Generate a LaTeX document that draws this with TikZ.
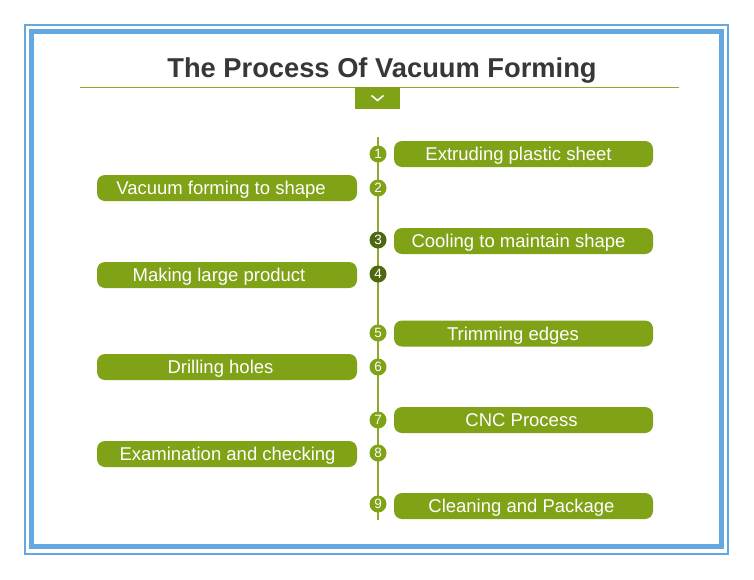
\documentclass[tikz,border=0pt]{standalone}
\usepackage{fontspec}
\setmainfont{Liberation Sans}
\definecolor{bord}{RGB}{100,168,226}
\definecolor{grn}{RGB}{127,162,22}
\definecolor{dgrn}{RGB}{78,104,18}
\definecolor{lgrn}{RGB}{140,170,45}
\definecolor{ttl}{RGB}{55,55,55}
\begin{document}
\begin{tikzpicture}[x=1pt,y=-1pt,
  stepbox/.style={fill=grn,rounded corners=8pt,minimum width=259pt,minimum height=26pt,inner sep=0pt,text height=13pt,text depth=0pt,text=white,font=\fontsize{18.5}{20}\selectfont},
  num/.style={circle,fill=grn,minimum size=17pt,inner sep=0pt,text height=9.3pt,text depth=0pt,text=white,font=\fontsize{13.5}{14}\selectfont},
  dnum/.style={num,fill=dgrn}]
\useasboundingbox (0,0) rectangle (754,579);
\fill[white] (0,0) rectangle (754,579);
% borders
\draw[bord,line width=2pt] (25,25) rectangle (728,554);
\draw[bord,line width=5pt] (31.5,31.5) rectangle (721.5,546.5);
% title
\node[font=\bfseries\fontsize{27.3}{30}\selectfont,text=ttl] (title) at (382,70.5) {The Process Of Vacuum Forming};
\coordinate (tl) at (80,87);
\coordinate (tr) at (679,87);
\draw[lgrn,line width=1pt] (tl) -- (tr);
\node[fill=grn,minimum width=45pt,minimum height=22pt,inner sep=0pt] (chev) at (377.5,98) {};
\draw[white,line width=1.6pt] ([xshift=-6pt,yshift=2.5pt]chev.center) -- ([yshift=-2.5pt]chev.center) -- ([xshift=6pt,yshift=2.5pt]chev.center);
% timeline
\coordinate (lt) at (378,137);
\coordinate (lb) at (378,520);
\draw[lgrn,line width=1.2pt] (lt) -- (lb);
% circles
\node[num]  (n1) at (378,154) {1};
\node[num]  (n2) at (378,188) {2};
\node[dnum] (n3) at (378,240) {3};
\node[dnum] (n4) at (378,274) {4};
\node[num]  (n5) at (378,333) {5};
\node[num]  (n6) at (378,367) {6};
\node[num]  (n7) at (378,420) {7};
\node[num]  (n8) at (378,453) {8};
\node[num]  (n9) at (378,504) {9};
% boxes
\node[stepbox] (b1) at (523.5,154) {Extruding plastic sheet\kern10pt};
\node[stepbox,minimum width=260pt] (b2) at (227,188) {Vacuum forming to shape\kern12pt};
\node[stepbox] (b3) at (523.5,241) {Cooling to maintain shape\kern10pt};
\node[stepbox,minimum width=260pt] (b4) at (227,275) {Making large product\kern16pt};
\node[stepbox] (b5) at (523.5,333.5) {Trimming edges\kern21pt};
\node[stepbox,minimum width=260pt] (b6) at (227,367) {Drilling holes\kern13pt};
\node[stepbox] (b7) at (523.5,420) {CNC Process\kern4pt};
\node[stepbox,minimum width=260pt] (b8) at (227,454) {\kern1pt Examination and checking};
\node[stepbox] (b9) at (523.5,506) {Cleaning and Package\kern4pt};
\end{tikzpicture}
\end{document}
